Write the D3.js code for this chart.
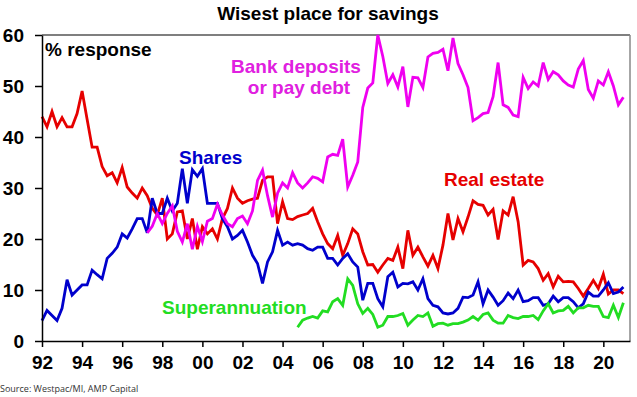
<!DOCTYPE html>
<html>
<head>
<meta charset="utf-8">
<script src="https://cdn.jsdelivr.net/npm/d3@7"></script>
<style>
  body { margin: 0; background: #fff; }
  svg { display: block; }
  .axis text { font-family: "Liberation Sans", Arial, sans-serif; font-weight: bold; font-size: 19px; fill: #000; }
  .axis path, .axis line { stroke: #000; stroke-width: 1.5; }
</style>
</head>
<body>
<svg id="svg" width="637" height="397"></svg>
<script>
// quarterly survey readings, % response
const realEstateStart = 1992;
const realEstate = [
  44, 42, 45, 42, 43.8, 42, 42, 44.6, 49, 43.5, 38, 38, 34.2, 32.4, 33, 31,
  34, 30.2, 29, 28, 30, 28.5, 26, 24.7, 28, 20, 21, 25.3, 25.5, 20, 24, 18,
  22.4, 21, 22, 20, 24, 26, 30, 28, 27, 27.5, 27.8, 28, 31.5, 32.2, 32.2, 23,
  27.3, 24, 23.8, 24.4, 24.7, 25, 26, 23.4, 21, 19.1, 18.1, 20.7, 16.8, 19.1,
  22, 21, 17.5, 14.9, 15, 13.5, 14.9, 16.2, 15.8, 18.4, 14.2, 21.7, 16.8, 18.4,
  16.5, 14.7, 16.8, 14.2, 18.8, 25, 19.8, 24, 21.4, 24.3, 27.5, 26.8, 26.6, 24.7,
  25.8, 19.9, 25.5, 24.7, 28.3, 23.4, 14.9, 15.8, 15.5, 14.2, 11.9, 13.2, 10.6,
  12.7, 11.6, 11.7, 11.6, 10.3, 8.8, 10.3, 11.9, 10.3, 13.1, 9.2, 10, 10, 9.3
];

const sharesStart = 1992;
const shares = [
  4, 6, 5, 4, 6.4, 12, 9, 10, 11, 11, 13.9, 13, 12.2, 16.2, 17.2, 18.4,
  21, 20.2, 22, 24, 24, 21.2, 28, 25, 25, 28, 25.5, 27, 33.8, 27, 33.6, 32.3,
  33.8, 27, 27, 27, 24, 22.4, 20, 20.7, 21.7, 19.4, 16.8, 15.2, 11.3, 15.5, 17.5, 21.7,
  18.8, 19.4, 18.8, 19.1, 18.8, 18.1, 17.8, 18.4, 18.4, 16.2, 16.2, 14.9, 16.2, 17.1,
  15.5, 14.5, 8, 11.3, 11.3, 8.3, 6.7, 12.6, 13.5, 10.6, 11.3, 11.2, 11.6, 10,
  12.2, 8.3, 7, 6.7, 5.5, 5.3, 5.5, 6.4, 8.6, 8.5, 9, 11.6, 7.3, 10, 8.6, 7,
  7.9, 9.4, 8.3, 10, 7.7, 7.9, 8.5, 8.5, 7, 7.3, 8.8, 7.7, 8.5, 8.5, 7.7, 6.5,
  7.3, 9.6, 8.8, 8.8, 10, 11.4, 9.3, 9.6, 10.6
];

const bankStart = 1997.25;
const bank = [
  21.2, 22.5, 25, 23, 25, 26.5, 21.5, 19.4, 23, 18, 22.5, 19.5, 23.5, 24, 26.8, 24.7,
  23, 22.4, 24, 24.5, 23, 25.5, 31.5, 33.5, 28.5, 24.3, 29, 31, 30, 33, 31, 30,
  31, 32.2, 31.9, 31.2, 36.1, 36.6, 36.4, 39.6, 30.2, 32.5, 35.1, 45.8, 49.6, 50.6, 60, 55.8,
  50.5, 52.2, 49.8, 53.8, 45.9, 51.7, 51.6, 49.7, 55.7, 56.4, 56.6, 57.2, 53, 59.4, 54.4, 52.2,
  49.7, 43.2, 43.8, 44.6, 44.8, 47.9, 54.6, 46.3, 45.8, 44.3, 44, 51.7, 49.5, 50.8, 50, 54.6,
  51.3, 52.8, 52.2, 51, 50.2, 49.8, 53.3, 55, 49.3, 47.6, 51, 50.2, 52.8, 50, 46.3, 47.8
];

const superStart = 2004.75;
const superann = [
  2.7, 4.1, 4.5, 4.8, 4.5, 5.9, 5.7, 7.7, 8.3, 7, 12.2, 10.9, 7.3, 5.4, 6.4, 5.2,
  2.7, 3.1, 4.8, 4.8, 5, 5.4, 3.1, 4.1, 5, 4.8, 5.5, 2.9, 3.4, 3.5, 3.1, 3.4,
  3.4, 3.7, 4.1, 4.8, 4.1, 5.2, 5.5, 4.1, 3.5, 3.5, 5, 4.6, 4.4, 4.8, 4.8, 5,
  4.2, 5.9, 7.3, 5.5, 5.9, 6, 6.8, 5.5, 6.5, 6.5, 7, 6.8, 6.8, 4.8, 4.6, 7, 4.6, 7.5
];

const yTicks = [0, 10, 20, 30, 40, 50, 60];
const xTicks = [1992, 1994, 1996, 1998, 2000, 2002, 2004, 2006, 2008, 2010, 2012, 2014, 2016, 2018, 2020];

const series = [
  { name: "Real estate", start: realEstateStart, values: realEstate, color: "#e60000" },
  { name: "Shares", start: sharesStart, values: shares, color: "#0000cc" },
  { name: "Bank deposits", start: bankStart, values: bank, color: "#f000f0" },
  { name: "Superannuation", start: superStart, values: superann, color: "#22dd22" },
];

const svg = d3.select("#svg");
const plotL = 42, plotR = 630, plotT = 35, plotB = 341;

const x = d3.scaleLinear().domain([1992, 2021.33]).range([plotL, plotR]);
const y = d3.scaleLinear().domain([0, 60]).range([plotB, plotT]);

// title
svg.append("text")
  .attr("x", 328).attr("y", 20)
  .attr("text-anchor", "middle")
  .style("font-family", "Liberation Sans, Arial, sans-serif")
  .style("font-weight", "bold").style("font-size", "19px")
  .text("Wisest place for savings");

// frame (top black, right grey)
svg.append("line").attr("x1", plotL).attr("x2", plotR).attr("y1", plotT).attr("y2", plotT)
  .attr("stroke", "#000").attr("stroke-width", 1.2);
svg.append("line").attr("x1", plotR).attr("x2", plotR).attr("y1", plotT).attr("y2", plotB)
  .attr("stroke", "#888").attr("stroke-width", 1.5);

const line = d3.line()
  .x((d) => x(d.t))
  .y((d) => y(d.v));

for (const s of series) {
  const pts = s.values.map((v, i) => ({ t: s.start + i * 0.25, v: v }));
  svg.append("path")
    .datum(pts)
    .attr("fill", "none")
    .attr("stroke", s.color)
    .attr("stroke-width", 2.8)
    .attr("stroke-linejoin", "miter")
    .attr("d", line);
}

// axes
svg.append("g")
  .attr("class", "axis")
  .attr("transform", `translate(${plotL},0)`)
  .call(d3.axisLeft(y).tickValues(yTicks).tickSize(7).tickSizeOuter(0).tickPadding(11));

svg.append("g")
  .attr("class", "axis")
  .attr("transform", `translate(0,${plotB})`)
  .call(d3.axisBottom(x).tickValues(xTicks).tickSize(6).tickSizeOuter(0).tickPadding(9)
    .tickFormat((d) => d3.format("02d")(d % 100)));

// labels
const labels = [
  { text: "% response", x: 45, y: 56, color: "#000", anchor: "start" },
  { text: "Bank deposits", x: 296, y: 73, color: "#e020e0", anchor: "middle" },
  { text: "or pay debt", x: 299, y: 94, color: "#e020e0", anchor: "middle" },
  { text: "Shares", x: 179, y: 164, color: "#0000cc", anchor: "start" },
  { text: "Real estate", x: 444, y: 186, color: "#e60000", anchor: "start" },
  { text: "Superannuation", x: 162, y: 314, color: "#22dd22", anchor: "start" },
];

svg.selectAll(".lbl")
  .data(labels)
  .join("text")
  .attr("class", "lbl")
  .attr("x", (d) => d.x)
  .attr("y", (d) => d.y)
  .attr("text-anchor", (d) => d.anchor)
  .attr("fill", (d) => d.color)
  .style("font-family", "Liberation Sans, Arial, sans-serif")
  .style("font-weight", "bold")
  .style("font-size", "19px")
  .text((d) => d.text);

svg.append("text")
  .attr("x", 0).attr("y", 392)
  .attr("fill", "#333")
  .style("font-family", "Open Sans, sans-serif")
  .style("font-size", "9px")
  .text("Source: Westpac/MI, AMP Capital");
</script>
</body>
</html>
